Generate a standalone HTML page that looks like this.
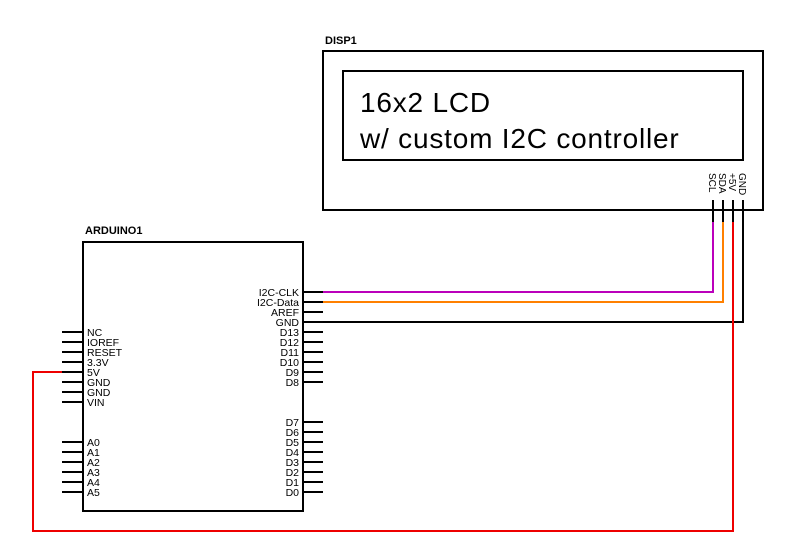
<!DOCTYPE html>
<html><head><meta charset="utf-8"><style>
html,body{margin:0;padding:0;background:#fff;}
svg{display:block;font-family:"Liberation Sans",Arial,sans-serif;}
</style></head><body>
<svg width="789" height="550" viewBox="0 0 789 550" xmlns="http://www.w3.org/2000/svg">
<rect width="789" height="550" fill="#fff"/>
<text x="325" y="44" font-size="11" font-weight="bold">DISP1</text>
<rect x="323" y="51" width="440" height="159" fill="none" stroke="#000" stroke-width="2"/>
<rect x="343" y="71" width="400" height="89" fill="none" stroke="#000" stroke-width="2"/>
<text x="360" y="112" font-size="28" letter-spacing="0.8">16x2 LCD</text>
<text x="360" y="148" font-size="28" letter-spacing="0.8">w/ custom I2C controller</text>
<g font-size="10">
<text transform="translate(709,173) rotate(90)">SCL</text>
<text transform="translate(719,173) rotate(90)">SDA</text>
<text transform="translate(729,173) rotate(90)">+5V</text>
<text transform="translate(739,173) rotate(90)">GND</text>
</g>
<g stroke="#000" stroke-width="2">
<line x1="713" y1="200" x2="713" y2="222"/>
<line x1="723" y1="200" x2="723" y2="222"/>
<line x1="733" y1="200" x2="733" y2="222"/>
<line x1="743" y1="200" x2="743" y2="222"/>
</g>
<text x="85" y="234" font-size="11" font-weight="bold">ARDUINO1</text>
<rect x="83" y="242" width="220" height="269" fill="none" stroke="#000" stroke-width="2"/>
<g stroke="#000" stroke-width="2">
<line x1="303" y1="292" x2="323" y2="292"/><line x1="303" y1="302" x2="323" y2="302"/>
<line x1="303" y1="312" x2="323" y2="312"/><line x1="303" y1="322" x2="323" y2="322"/>
<line x1="303" y1="332" x2="323" y2="332"/><line x1="303" y1="342" x2="323" y2="342"/>
<line x1="303" y1="352" x2="323" y2="352"/><line x1="303" y1="362" x2="323" y2="362"/>
<line x1="303" y1="372" x2="323" y2="372"/><line x1="303" y1="382" x2="323" y2="382"/>
<line x1="303" y1="422" x2="323" y2="422"/><line x1="303" y1="432" x2="323" y2="432"/>
<line x1="303" y1="442" x2="323" y2="442"/><line x1="303" y1="452" x2="323" y2="452"/>
<line x1="303" y1="462" x2="323" y2="462"/><line x1="303" y1="472" x2="323" y2="472"/>
<line x1="303" y1="482" x2="323" y2="482"/><line x1="303" y1="492" x2="323" y2="492"/>
<line x1="62" y1="332" x2="83" y2="332"/><line x1="62" y1="342" x2="83" y2="342"/>
<line x1="62" y1="352" x2="83" y2="352"/><line x1="62" y1="362" x2="83" y2="362"/>
<line x1="62" y1="372" x2="83" y2="372"/><line x1="62" y1="382" x2="83" y2="382"/>
<line x1="62" y1="392" x2="83" y2="392"/><line x1="62" y1="402" x2="83" y2="402"/>
<line x1="62" y1="442" x2="83" y2="442"/><line x1="62" y1="452" x2="83" y2="452"/>
<line x1="62" y1="462" x2="83" y2="462"/><line x1="62" y1="472" x2="83" y2="472"/>
<line x1="62" y1="482" x2="83" y2="482"/><line x1="62" y1="492" x2="83" y2="492"/>
</g>
<g font-size="10.5" text-anchor="end">
<text x="299" y="296">I2C-CLK</text><text x="299" y="306">I2C-Data</text>
<text x="299" y="316">AREF</text><text x="299" y="326">GND</text>
<text x="299" y="336">D13</text><text x="299" y="346">D12</text>
<text x="299" y="356">D11</text><text x="299" y="366">D10</text>
<text x="299" y="376">D9</text><text x="299" y="386">D8</text>
<text x="299" y="426">D7</text><text x="299" y="436">D6</text>
<text x="299" y="446">D5</text><text x="299" y="456">D4</text>
<text x="299" y="466">D3</text><text x="299" y="476">D2</text>
<text x="299" y="486">D1</text><text x="299" y="496">D0</text>
</g>
<g font-size="10.5">
<text x="87" y="336">NC</text><text x="87" y="346">IOREF</text>
<text x="87" y="356">RESET</text><text x="87" y="366">3.3V</text>
<text x="87" y="376">5V</text><text x="87" y="386">GND</text>
<text x="87" y="396">GND</text><text x="87" y="406">VIN</text>
<text x="87" y="446">A0</text><text x="87" y="456">A1</text>
<text x="87" y="466">A2</text><text x="87" y="476">A3</text>
<text x="87" y="486">A4</text><text x="87" y="496">A5</text>
</g>
<g fill="none" stroke-width="2">
<polyline points="323,292 713,292 713,222" stroke="#bb00bb"/>
<polyline points="323,302 723,302 723,222" stroke="#ff8000"/>
<polyline points="303,322 743,322 743,222" stroke="#000"/>
<polyline points="733,222 733,531 33,531 33,372 62,372" stroke="#ee0000"/>
</g>
</svg>
</body></html>
